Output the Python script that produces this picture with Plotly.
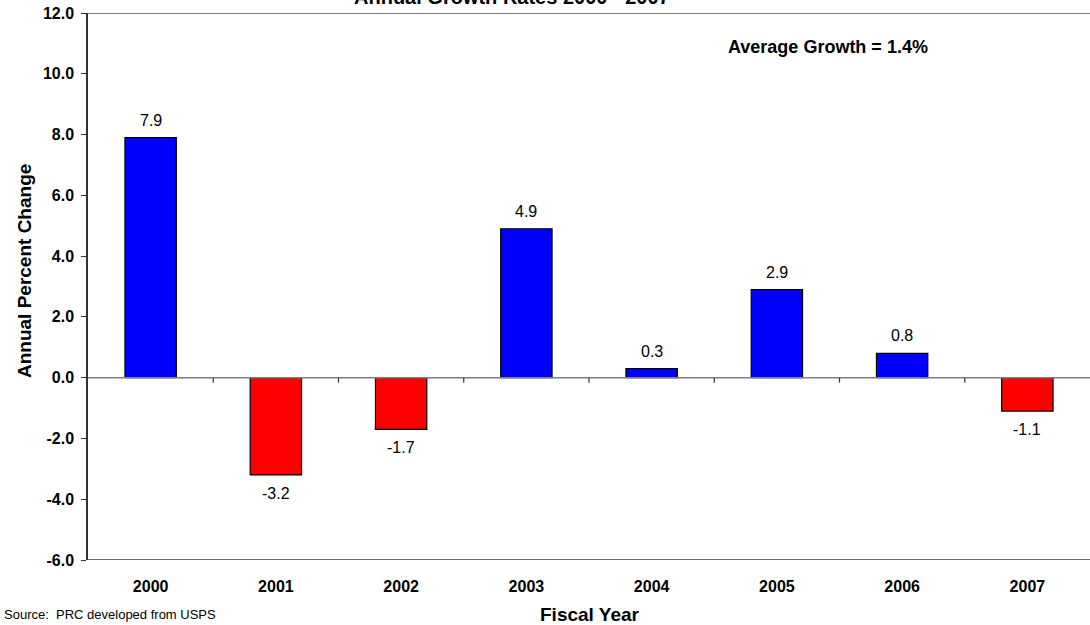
import plotly.graph_objects as go

years = ["2000", "2001", "2002", "2003", "2004", "2005", "2006", "2007"]
growth = [7.9, -3.2, -1.7, 4.9, 0.3, 2.9, 0.8, -1.1]
y_ticks = [-6, -4, -2, 0, 2, 4, 6, 8, 10, 12]

colors = ["#0000FF" if v >= 0 else "#FF0000" for v in growth]

fig = go.Figure()
fig.add_trace(go.Bar(
    x=years, y=growth,
    marker=dict(color=colors, line=dict(color="#000000", width=1.2)),
    width=0.41,
    showlegend=False,
    hoverinfo="skip",
))

font = "Arial, Liberation Sans, sans-serif"

L, T, W, H = 88, 13, 1002, 547  # plot area in pixels


def px(x):
    return (x - L) / W


def py(y):
    return (T + H - y) / H


annotations = []
for i, v in enumerate(growth):
    annotations.append(dict(
        x=i, y=v, xref="x", yref="y",
        text=f"{v:.1f}", showarrow=False,
        font=dict(family=font, size=16, color="#000"),
        yanchor="bottom" if v >= 0 else "top",
        yshift=7 if v >= 0 else -8,
    ))

annotations += [
    dict(text="<b>Annual Growth Rates 2000 - 2007</b>", xref="paper", yref="paper",
         x=px(512), y=1, yshift=3, yanchor="bottom", xanchor="center",
         showarrow=False, font=dict(family=font, size=20, color="#000")),
    dict(text="<b>Average Growth = 1.4%</b>", xref="paper", yref="paper",
         x=px(828), y=py(47), xanchor="center", yanchor="middle",
         showarrow=False, font=dict(family=font, size=18, color="#000")),
    dict(text="<b>Annual Percent Change</b>", xref="paper", yref="paper",
         x=px(24), y=py(271), xanchor="center", yanchor="middle",
         textangle=-90, showarrow=False, font=dict(family=font, size=19, color="#000")),
    dict(text="<b>Fiscal Year</b>", xref="paper", yref="paper",
         x=px(590), y=py(614), xanchor="center", yanchor="middle",
         showarrow=False, font=dict(family=font, size=19, color="#000")),
    dict(text="Source:  PRC developed from USPS", xref="paper", yref="paper",
         x=px(2), y=py(614), xanchor="left", yanchor="middle",
         showarrow=False, font=dict(family=font, size=13, color="#000")),
]

shapes = [
    dict(type="line", xref="paper", yref="y", x0=0, x1=1, y0=12, y1=12,
         line=dict(color="#7f7f7f", width=2)),
    dict(type="line", xref="paper", yref="y", x0=0, x1=1, y0=0, y1=0,
         line=dict(color="#7f7f7f", width=1.5)),
    dict(type="line", xref="paper", yref="y", x0=0, x1=1, y0=-6, y1=-6,
         line=dict(color="#333333", width=1.5)),
]
for i in range(1, len(years)):
    shapes.append(dict(type="line", xref="x", yref="y", x0=i - 0.5, x1=i - 0.5,
                       ysizemode="pixel", yanchor=0, y0=0, y1=-5,
                       line=dict(color="#333333", width=1.2)))

fig.update_layout(
    width=1090, height=625,
    margin=dict(l=L, r=1090 - L - W, t=T, b=625 - T - H),
    paper_bgcolor="white", plot_bgcolor="white",
    annotations=annotations,
    shapes=shapes,
    xaxis=dict(
        type="category", showgrid=False, showline=False, ticks="",
        tickfont=dict(family=font, size=16, color="#000"),
        tickprefix="<b>", ticksuffix="</b>",
        ticklabelstandoff=15,
        range=[-0.5, len(years) - 0.5],
    ),
    yaxis=dict(
        range=[-6, 12], tickvals=y_ticks,
        ticktext=[f"<b>{t:.1f}</b>" for t in y_ticks],
        showgrid=False, zeroline=False,
        showline=True, linecolor="#333333", linewidth=1.5,
        ticks="outside", ticklen=5, tickcolor="#333333", tickwidth=1.2,
        tickfont=dict(family=font, size=16, color="#000"),
        ticklabelstandoff=4,
    ),
)

fig.write_html("out.html", config={"displayModeBar": False},
               post_script="document.body.style.margin='0';")
